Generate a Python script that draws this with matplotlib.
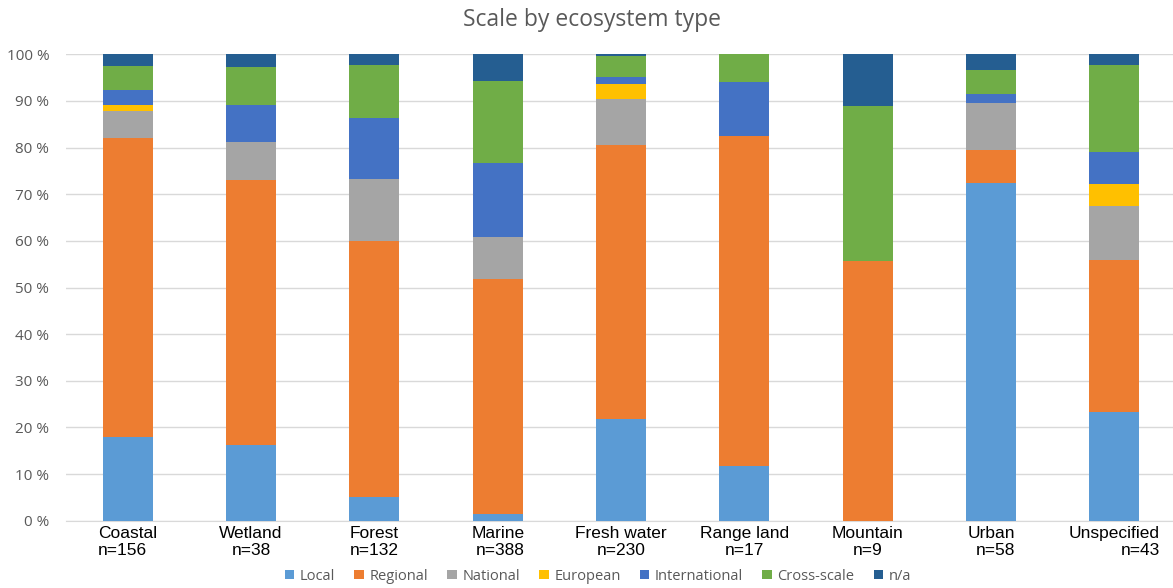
import matplotlib.pyplot as plt
import numpy as np

# percentages
categories = ['Coastal', 'Wetland', 'Forest', 'Marine', 'Fresh water',
              'Range land', 'Mountain', 'Urban', 'Unspecified']
counts = ['n=156', 'n=38', 'n=132', 'n=388', 'n=230', 'n=17', 'n=9', 'n=58', 'n=43']

local = [17.9, 16.2, 5.1, 1.4, 21.8, 11.8, 0.0, 72.4, 23.3]
regional = [64.1, 56.8, 54.9, 50.4, 58.7, 70.6, 55.6, 7.0, 32.5]
national = [5.8, 8.1, 13.3, 9.0, 10.0, 0.0, 0.0, 10.2, 11.6]
european = [1.3, 0.0, 0.0, 0.0, 3.1, 0.0, 0.0, 0.0, 4.7]
international = [3.2, 8.1, 13.0, 16.0, 1.6, 11.7, 0.0, 1.8, 7.0]
cross_scale = [5.1, 8.1, 11.4, 17.5, 4.4, 5.9, 33.3, 5.2, 18.6]
na = [2.6, 2.7, 2.3, 5.7, 0.4, 0.0, 11.1, 3.4, 2.3]

series = [('Local', local, '#5B9BD5'),
          ('Regional', regional, '#ED7D31'),
          ('National', national, '#A5A5A5'),
          ('European', european, '#FFC000'),
          ('International', international, '#4472C4'),
          ('Cross-scale', cross_scale, '#70AD47'),
          ('n/a', na, '#255E91')]

# alignment of the two label lines, as in the reference
label_align = ['left', 'center', 'center', 'right', 'center', 'center', 'center', 'right', 'right']

fig = plt.figure(figsize=(11.73, 5.88), dpi=100)
ax = fig.add_axes([66/1173, 67.3/588, 1107/1173, 466.4/588])

x = np.arange(len(categories))
bottom = np.zeros(len(categories))
for name, vals, col in series:
    ax.bar(x, vals, width=0.405, bottom=bottom, color=col, label=name, zorder=3)
    bottom += np.array(vals)

ax.set_xlim(-0.5, 8.475)
ax.set_ylim(0, 100)
ax.set_yticks(range(0, 101, 10))
ax.set_yticklabels([f'{t} %' for t in range(0, 101, 10)],
                   fontsize=11, color='#595959', family='Open Sans')
ax.yaxis.grid(True, color='#D9D9D9', linewidth=1, zorder=0)
ax.tick_params(axis='y', length=0, pad=12)
ax.tick_params(axis='x', length=0)
ax.set_xticks(x)
ax.set_xticklabels([])
for s in ['top', 'right', 'left']:
    ax.spines[s].set_visible(False)
ax.spines['bottom'].set_color('#D9D9D9')

for i in range(len(categories)):
    ax.text(x[i], -1.2, categories[i] + '\n' + counts[i], ha='center', va='top',
            multialignment=label_align[i], fontsize=12.5, family='Liberation Sans',
            color='black', linespacing=1.15)

fig.text(0.505, 0.966, 'Scale by ecosystem type', ha='center', va='center',
         fontsize=16.5, color='#595959', family='Open Sans')

leg = fig.legend(loc='center', bbox_to_anchor=(598/1173, 12/588), ncol=7, frameon=False,
                 handlelength=0.65, handleheight=0.65, handletextpad=0.4, columnspacing=1.3,
                 prop={'family': 'Open Sans', 'size': 10.5})
for t in leg.get_texts():
    t.set_color('#595959')

plt.savefig('out.png', dpi=100)
plt.close()
